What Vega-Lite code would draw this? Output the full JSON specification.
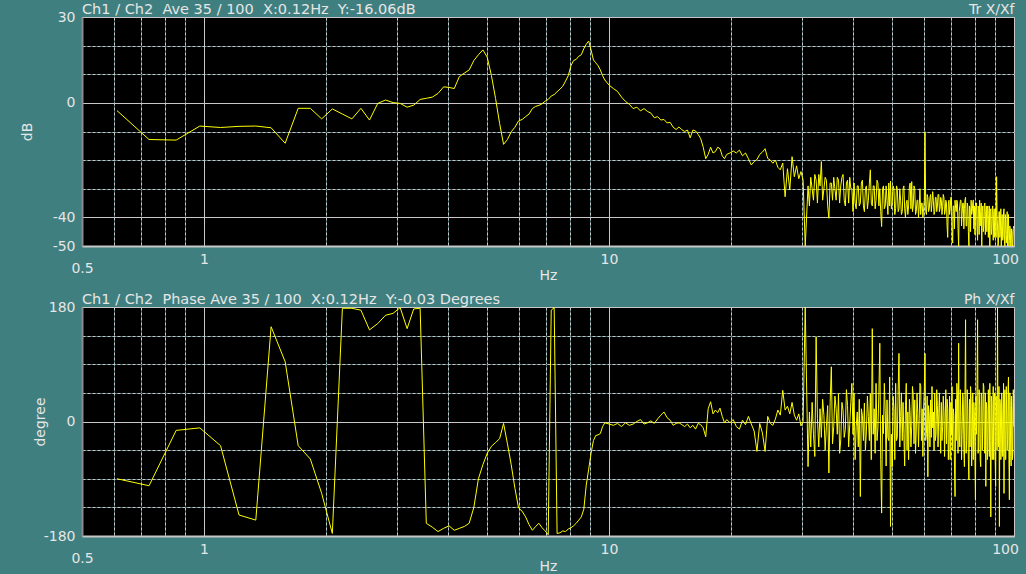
{
"$schema": "https://vega.github.io/schema/vega-lite/v6.json",
"background": "#3f7f7f",
"padding": {"left": 19, "top": 1, "right": 10, "bottom": 1},
"bounds": "flush",
"spacing": 61,
"config": {
  "font": "DejaVu Sans",
  "view": {"fill": "#000000", "stroke": "#b4b4b4", "strokeWidth": 1},
  "axis": {"labelFont": "DejaVu Sans", "labelFontSize": 14, "labelColor": "#e6e6e6", "titleFont": "DejaVu Sans", "titleFontSize": 14, "titleFontWeight": "normal", "titleColor": "#e6e6e6", "ticks": false, "tickSize": 0, "labelFlush": false, "labelOverlap": false, "labelBound": false, "gridColor": "#c8c8c8", "gridOpacity": 1, "gridWidth": 1},
  "title": {"font": "DejaVu Sans", "fontSize": 14.5, "fontWeight": "normal", "color": "#e6e6e6", "anchor": "start", "frame": "group", "offset": -15, "baseline": "alphabetic"}
},
"datasets": {"d": [
{"f":0.610,"m":-2.7,"p":-90},{"f":0.732,"m":-12.8,"p":-101},{"f":0.854,"m":-13.0,"p":-14},{"f":0.977,"m":-8.1,"p":-10},{"f":1.099,"m":-8.6,"p":-38},
{"f":1.221,"m":-8.2,"p":-147},{"f":1.343,"m":-8.1,"p":-155},{"f":1.465,"m":-8.7,"p":149},{"f":1.587,"m":-14.1,"p":94},{"f":1.709,"m":-1.9,"p":-38},
{"f":1.831,"m":-1.9,"p":-59},{"f":1.953,"m":-5.6,"p":-113},{"f":2.075,"m":-2.1,"p":-176},{"f":2.197,"m":-3.9,"p":178},{"f":2.319,"m":-5.6,"p":178},
{"f":2.441,"m":-1.9,"p":175},{"f":2.563,"m":-6.0,"p":144},{"f":2.686,"m":-0.2,"p":154},{"f":2.808,"m":1.0,"p":167},{"f":2.930,"m":0.1,"p":170},
{"f":3.052,"m":-0.2,"p":179},{"f":3.174,"m":-1.5,"p":146},{"f":3.296,"m":-0.8,"p":177},{"f":3.418,"m":1.2,"p":178},{"f":3.540,"m":1.6,"p":-160},
{"f":3.662,"m":2.0,"p":-166},{"f":3.784,"m":3.3,"p":-173},{"f":3.906,"m":5.6,"p":-168},{"f":4.028,"m":5.4,"p":-164},{"f":4.150,"m":5.0,"p":-171},
{"f":4.272,"m":9.2,"p":-168},{"f":4.395,"m":10.4,"p":-165},{"f":4.517,"m":11.5,"p":-160},{"f":4.639,"m":14.8,"p":-135},{"f":4.761,"m":16.8,"p":-90},
{"f":4.883,"m":18.5,"p":-68},{"f":5.005,"m":16.0,"p":-50},{"f":5.127,"m":9.5,"p":-39},{"f":5.249,"m":1.5,"p":-33},{"f":5.371,"m":-7.2,"p":-27},
{"f":5.493,"m":-14.5,"p":-3},{"f":5.615,"m":-12.8,"p":-35},{"f":5.737,"m":-10.1,"p":-68},{"f":5.859,"m":-8.5,"p":-105},{"f":5.981,"m":-6.3,"p":-136},
{"f":6.104,"m":-5.8,"p":-141},{"f":6.226,"m":-4.8,"p":-150},{"f":6.348,"m":-3.9,"p":-162},{"f":6.470,"m":-2.0,"p":-171},{"f":6.592,"m":-1.2,"p":-165},
{"f":6.714,"m":-0.9,"p":-160},{"f":6.836,"m":-0.3,"p":-167},{"f":6.958,"m":0.6,"p":-172},{"f":7.080,"m":1.2,"p":-178},{"f":7.202,"m":2.4,"p":175},
{"f":7.324,"m":2.9,"p":179},{"f":7.446,"m":3.9,"p":-176},{"f":7.568,"m":4.8,"p":-175},{"f":7.690,"m":5.8,"p":-172},{"f":7.812,"m":7.6,"p":-173},
{"f":7.935,"m":9.5,"p":-169},{"f":8.057,"m":13.0,"p":-167},{"f":8.179,"m":14.8,"p":-164},{"f":8.301,"m":15.2,"p":-160},{"f":8.423,"m":16.3,"p":-155},
{"f":8.545,"m":16.8,"p":-150},{"f":8.667,"m":18.9,"p":-138},{"f":8.789,"m":20.5,"p":-100},{"f":8.911,"m":21.6,"p":-75},{"f":9.033,"m":18.5,"p":-50},
{"f":9.155,"m":15.0,"p":-30},{"f":9.277,"m":14.0,"p":-22},{"f":9.399,"m":13.0,"p":-21},{"f":9.521,"m":11.5,"p":-19},{"f":9.644,"m":9.5,"p":-8},
{"f":9.766,"m":8.0,"p":-2},{"f":10.010,"m":6.2,"p":-4},{"f":10.254,"m":5.0,"p":-6},{"f":10.498,"m":4.0,"p":-3},{"f":10.742,"m":2.0,"p":-8},
{"f":10.986,"m":0.5,"p":-2},{"f":11.230,"m":-0.5,"p":-6},{"f":11.475,"m":-2.0,"p":-4},{"f":11.719,"m":-1.5,"p":0},{"f":11.963,"m":-2.8,"p":3},
{"f":12.207,"m":-2.0,"p":-4},{"f":12.451,"m":-3.0,"p":-2},{"f":12.695,"m":-3.6,"p":1},{"f":12.939,"m":-5.2,"p":-3},{"f":13.184,"m":-4.8,"p":4},
{"f":13.428,"m":-6.0,"p":10},{"f":13.672,"m":-5.8,"p":15},{"f":13.916,"m":-7.0,"p":6},{"f":14.160,"m":-6.8,"p":2},{"f":14.404,"m":-8.5,"p":-6},
{"f":14.648,"m":-9.3,"p":-3},{"f":14.893,"m":-8.4,"p":-2},{"f":15.137,"m":-9.4,"p":-5},{"f":15.381,"m":-10.0,"p":-8},{"f":15.625,"m":-9.5,"p":-4},
{"f":15.869,"m":-12.2,"p":-10},{"f":16.113,"m":-9.5,"p":-6},{"f":16.357,"m":-9.8,"p":-12},{"f":16.602,"m":-11.0,"p":-3},{"f":16.846,"m":-12.5,"p":-5},
{"f":17.090,"m":-15.5,"p":-10},{"f":17.334,"m":-19.5,"p":-24},{"f":17.578,"m":-18.0,"p":20},{"f":17.822,"m":-15.5,"p":31},{"f":18.066,"m":-17.5,"p":12},
{"f":18.311,"m":-17.0,"p":18},{"f":18.555,"m":-15.5,"p":14},{"f":18.799,"m":-16.0,"p":21},{"f":19.043,"m":-18.5,"p":8},{"f":19.287,"m":-19.5,"p":-2},
{"f":19.531,"m":-18.0,"p":3},{"f":19.897,"m":-17.5,"p":-2},{"f":20.264,"m":-16.8,"p":3},{"f":20.630,"m":-17.5,"p":-8},{"f":20.996,"m":-16.5,"p":-12},
{"f":21.362,"m":-18.5,"p":2},{"f":21.728,"m":-17.5,"p":-5},{"f":22.095,"m":-19.5,"p":8},{"f":22.461,"m":-21.7,"p":-4},{"f":22.827,"m":-20.5,"p":-15},
{"f":23.193,"m":-19.8,"p":-47},{"f":23.560,"m":-18.0,"p":-3},{"f":23.926,"m":-17.2,"p":-18},{"f":24.292,"m":-16.0,"p":-47},{"f":24.658,"m":-19.4,"p":8},
{"f":25.024,"m":-20.0,"p":-3},{"f":25.391,"m":-21.1,"p":-6},{"f":25.757,"m":-20.0,"p":4},{"f":26.123,"m":-22.5,"p":18},{"f":26.489,"m":-23.4,"p":10},
{"f":26.855,"m":-21.0,"p":49},{"f":27.222,"m":-32.8,"p":18},{"f":27.588,"m":-23.0,"p":24},{"f":27.954,"m":-30.4,"p":12},{"f":28.320,"m":-18.8,"p":30},
{"f":28.686,"m":-25.8,"p":10},{"f":29.053,"m":-22.0,"p":2},{"f":29.419,"m":-26.5,"p":12},{"f":29.785,"m":-24.0,"p":-7},{"f":30.151,"m":-27.0,"p":0},
{"f":30.518,"m":-50.0,"p":180},
{"f":31.01,"m":-29,"p":-71},{"f":31.25,"m":-36,"p":15},{"f":31.49,"m":-26,"p":-40},{"f":31.74,"m":-30,"p":30},{"f":31.98,"m":-34,"p":-20},
{"f":32.23,"m":-25,"p":-55},{"f":32.47,"m":-27,"p":133},{"f":32.71,"m":-35,"p":5},{"f":32.96,"m":-25,"p":-40},{"f":33.20,"m":-29,"p":20},
{"f":33.45,"m":-20.5,"p":-25},{"f":33.69,"m":-34,"p":35},{"f":33.94,"m":-30,"p":10},{"f":34.18,"m":-26,"p":-45},{"f":34.42,"m":-27,"p":-8},
{"f":34.67,"m":-36,"p":25},{"f":34.91,"m":-40.3,"p":-81},{"f":35.16,"m":-28,"p":30},{"f":35.40,"m":-28,"p":86},{"f":35.64,"m":-34,"p":-35},
{"f":35.89,"m":-26,"p":-8},{"f":36.13,"m":-30,"p":40},{"f":36.38,"m":-34,"p":20},{"f":36.62,"m":-26,"p":-20},{"f":36.87,"m":-27,"p":44},
{"f":37.11,"m":-35,"p":-50},{"f":37.35,"m":-29,"p":-29},{"f":37.60,"m":-26,"p":30},{"f":37.84,"m":-25,"p":18},{"f":38.09,"m":-34,"p":-25},
{"f":38.33,"m":-36,"p":-13},{"f":38.57,"m":-28,"p":50},{"f":38.82,"m":-27,"p":25},{"f":39.06,"m":-35,"p":-40},{"f":39.31,"m":-26,"p":-5},
{"f":39.55,"m":-30,"p":30},{"f":39.79,"m":-30,"p":60},{"f":40.04,"m":-38,"p":-20},{"f":40.28,"m":-28,"p":44},{"f":40.53,"m":-35,"p":-60},
{"f":40.77,"m":-37,"p":-8},{"f":41.02,"m":-29,"p":15},{"f":41.26,"m":-29,"p":-40},{"f":41.50,"m":-36,"p":35},{"f":41.75,"m":-35,"p":-118},
{"f":41.99,"m":-28,"p":20},{"f":42.24,"m":-27,"p":10},{"f":42.48,"m":-36,"p":-30},{"f":42.72,"m":-38,"p":29},{"f":42.97,"m":-30,"p":-45},
{"f":43.21,"m":-29,"p":-15},{"f":43.46,"m":-37,"p":40},{"f":43.70,"m":-34,"p":8},{"f":43.95,"m":-28,"p":-30},{"f":44.19,"m":-23.4,"p":44},
{"f":44.43,"m":-35,"p":-60},{"f":44.68,"m":-36,"p":146},{"f":44.92,"m":-29,"p":-20},{"f":45.17,"m":-29,"p":20},{"f":45.41,"m":-37,"p":-50},
{"f":45.65,"m":-34,"p":60},{"f":45.90,"m":-27,"p":-30},{"f":46.14,"m":-28,"p":-10},{"f":46.39,"m":-36,"p":45},{"f":46.63,"m":-30,"p":123},
{"f":46.87,"m":-38,"p":-60},{"f":47.12,"m":-43.2,"p":-144},{"f":47.36,"m":-30,"p":10},{"f":47.61,"m":-29,"p":-19},{"f":47.85,"m":-37,"p":60},
{"f":48.10,"m":-36,"p":15},{"f":48.34,"m":-29,"p":-70},{"f":48.58,"m":-34,"p":34},{"f":48.83,"m":-39,"p":-25},{"f":49.07,"m":-28,"p":-30},
{"f":49.32,"m":-36,"p":70},{"f":49.56,"m":-27.3,"p":-165},{"f":49.80,"m":-37,"p":-20},{"f":50.05,"m":-35,"p":-71},{"f":50.29,"m":-29,"p":40},
{"f":50.54,"m":-30,"p":20},{"f":50.78,"m":-39,"p":-60},{"f":51.03,"m":-37,"p":60},{"f":51.27,"m":-29,"p":-30},{"f":51.51,"m":-30,"p":-25},
{"f":51.76,"m":-38,"p":50},{"f":52.00,"m":-37,"p":107},{"f":52.25,"m":-30,"p":-40},{"f":52.49,"m":-34,"p":8},{"f":52.73,"m":-39,"p":45},
{"f":52.98,"m":-38,"p":-30},{"f":53.22,"m":-30,"p":30},{"f":53.47,"m":-29,"p":-19},{"f":53.71,"m":-37,"p":-70},{"f":53.96,"m":-40,"p":25},
{"f":54.20,"m":-35,"p":60},{"f":54.44,"m":-34,"p":-45},{"f":54.69,"m":-39,"p":15},{"f":54.93,"m":-36,"p":-60},{"f":55.18,"m":-29,"p":35},
{"f":55.42,"m":-28,"p":10},{"f":55.66,"m":-37,"p":-40},{"f":55.91,"m":-27.5,"p":-8},{"f":56.15,"m":-38,"p":55},{"f":56.40,"m":-36,"p":40},
{"f":56.64,"m":-29,"p":-35},{"f":56.88,"m":-30,"p":34},{"f":57.13,"m":-39,"p":-50},{"f":57.37,"m":-38,"p":-15},{"f":57.62,"m":-34,"p":45},
{"f":57.86,"m":-34,"p":13},{"f":58.11,"m":-40,"p":-40},{"f":58.35,"m":-36,"p":5},{"f":58.59,"m":-30,"p":60},{"f":58.84,"m":-39,"p":55},
{"f":59.08,"m":-35,"p":-30},{"f":59.33,"m":-35,"p":20},{"f":59.57,"m":-40,"p":-55},{"f":59.81,"m":-37,"p":20},{"f":60.06,"m":-34,"p":50},
{"f":60.30,"m":-10.1,"p":107},{"f":60.55,"m":-38,"p":-30},{"f":60.79,"m":-39,"p":-19},{"f":61.04,"m":-32,"p":40},{"f":61.28,"m":-33,"p":-87},
{"f":61.52,"m":-38,"p":25},{"f":61.77,"m":-37,"p":10},{"f":62.01,"m":-33,"p":-40},{"f":62.26,"m":-32,"p":34},{"f":62.50,"m":-38,"p":-25},
{"f":62.74,"m":-35,"p":55},{"f":62.99,"m":-31,"p":-10},{"f":63.23,"m":-34,"p":15},{"f":63.48,"m":-39,"p":-45},{"f":63.72,"m":-38,"p":44},
{"f":63.96,"m":-33,"p":-30},{"f":64.21,"m":-33,"p":-20},{"f":64.45,"m":-38,"p":50},{"f":64.70,"m":-36,"p":25},{"f":64.94,"m":-32,"p":-40},
{"f":65.19,"m":-32,"p":13},{"f":65.43,"m":-38,"p":45},{"f":65.67,"m":-37,"p":-8},{"f":65.92,"m":-33,"p":-50},{"f":66.16,"m":-34,"p":30},
{"f":66.41,"m":-39,"p":-30},{"f":66.65,"m":-36.3,"p":-8},{"f":66.89,"m":-32,"p":40},{"f":67.14,"m":-33,"p":15},{"f":67.38,"m":-39,"p":-55},
{"f":67.63,"m":-38,"p":2},{"f":67.87,"m":-34,"p":50},{"f":68.12,"m":-35,"p":-35},{"f":68.36,"m":-43,"p":35},{"f":68.60,"m":-47,"p":20},
{"f":68.85,"m":-35,"p":-60},{"f":69.09,"m":-34,"p":-29},{"f":69.34,"m":-39,"p":40},{"f":69.58,"m":-37,"p":-60},{"f":69.82,"m":-33,"p":30},
{"f":70.07,"m":-33,"p":-20},{"f":70.31,"m":-43,"p":55},{"f":70.56,"m":-49,"p":-45},{"f":70.80,"m":-36,"p":20},{"f":71.04,"m":-36,"p":10},
{"f":71.29,"m":-44,"p":-70},{"f":71.53,"m":-34,"p":-118},{"f":71.78,"m":-37,"p":35},{"f":72.02,"m":-38,"p":-30},{"f":72.27,"m":-34,"p":60},
{"f":72.51,"m":-35,"p":40},{"f":72.75,"m":-44,"p":-50},{"f":73.00,"m":-50,"p":123},{"f":73.24,"m":-38,"p":-20},{"f":73.49,"m":-36,"p":-40},
{"f":73.73,"m":-34,"p":50},{"f":73.97,"m":-34,"p":8},{"f":74.22,"m":-43,"p":-60},{"f":74.46,"m":-39,"p":-20},{"f":74.71,"m":-35,"p":45},
{"f":74.95,"m":-35,"p":35},{"f":75.20,"m":-44,"p":-45},{"f":75.44,"m":-37,"p":-71},{"f":75.68,"m":-34,"p":40},{"f":75.93,"m":-33,"p":160},
{"f":76.17,"m":-43,"p":-50},{"f":76.42,"m":-43,"p":-30},{"f":76.66,"m":-35,"p":50},{"f":76.90,"m":-36,"p":20},{"f":77.15,"m":-45,"p":-60},
{"f":77.39,"m":-50,"p":-92},{"f":77.64,"m":-36,"p":35},{"f":77.88,"m":-37,"p":-40},{"f":78.12,"m":-45,"p":55},{"f":78.37,"m":-34,"p":30},
{"f":78.61,"m":-39,"p":-70},{"f":78.86,"m":-38,"p":-29},{"f":79.10,"m":-35,"p":45},{"f":79.35,"m":-33.9,"p":-60},{"f":79.59,"m":-44,"p":30},
{"f":79.83,"m":-36,"p":15},{"f":80.08,"m":-46,"p":-55},{"f":80.32,"m":-39,"p":-123},{"f":80.57,"m":-35,"p":40},{"f":80.81,"m":-35,"p":-20},
{"f":81.05,"m":-44,"p":60},{"f":81.30,"m":-48,"p":160},{"f":81.54,"m":-36,"p":-50},{"f":81.79,"m":-37,"p":-40},{"f":82.03,"m":-46,"p":50},
{"f":82.27,"m":-34,"p":25},{"f":82.52,"m":-43,"p":-60},{"f":82.76,"m":-38,"p":-71},{"f":83.01,"m":-35,"p":45},{"f":83.25,"m":-50,"p":40},
{"f":83.50,"m":-38,"p":-45},{"f":83.74,"m":-36,"p":-8},{"f":83.98,"m":-45,"p":60},{"f":84.23,"m":-43,"p":55},{"f":84.47,"m":-36,"p":-40},
{"f":84.72,"m":-35,"p":-50},{"f":84.96,"m":-46,"p":45},{"f":85.20,"m":-38,"p":-102},{"f":85.45,"m":-36,"p":30},{"f":85.69,"m":-45,"p":20},
{"f":85.94,"m":-37,"p":-60},{"f":86.18,"m":-36,"p":-40},{"f":86.43,"m":-47,"p":50},{"f":86.67,"m":-39,"p":10},{"f":86.91,"m":-36,"p":-55},
{"f":87.16,"m":-50,"p":60},{"f":87.40,"m":-38,"p":-30},{"f":87.65,"m":-37,"p":-150},{"f":87.89,"m":-46,"p":40},{"f":88.13,"m":-44,"p":30},
{"f":88.38,"m":-37,"p":-60},{"f":88.62,"m":-36,"p":-8},{"f":88.87,"m":-48,"p":55},{"f":89.11,"m":-39,"p":-60},{"f":89.36,"m":-37,"p":35},
{"f":89.60,"m":-47,"p":45},{"f":89.84,"m":-38,"p":-55},{"f":90.09,"m":-37,"p":-102},{"f":90.33,"m":-47,"p":40},{"f":90.58,"m":-25.8,"p":20},
{"f":90.82,"m":-39,"p":-45},{"f":91.06,"m":-43,"p":180},{"f":91.31,"m":-50,"p":-30},{"f":91.55,"m":-48.6,"p":-40},{"f":91.80,"m":-38,"p":55},
{"f":92.04,"m":-38,"p":-165},{"f":92.28,"m":-47,"p":35},{"f":92.53,"m":-45,"p":30},{"f":92.77,"m":-37,"p":-60},{"f":93.02,"m":-50,"p":-50},
{"f":93.26,"m":-43,"p":45},{"f":93.51,"m":-39,"p":15},{"f":93.75,"m":-48,"p":-55},{"f":93.99,"m":-47,"p":-19},{"f":94.24,"m":-38,"p":60},
{"f":94.48,"m":-37,"p":-113},{"f":94.73,"m":-49,"p":40},{"f":94.97,"m":-50,"p":50},{"f":95.21,"m":-39,"p":-60},{"f":95.46,"m":-43,"p":-60},
{"f":95.70,"m":-49,"p":55},{"f":95.95,"m":-46,"p":10},{"f":96.19,"m":-38,"p":-45},{"f":96.44,"m":-50,"p":-29},{"f":96.68,"m":-44,"p":50},
{"f":96.92,"m":-39,"p":70},{"f":97.17,"m":-50,"p":-60},{"f":97.41,"m":-48,"p":-123},{"f":97.66,"m":-43,"p":45},{"f":97.90,"m":-44,"p":25},
{"f":98.14,"m":-50,"p":-55},{"f":98.39,"m":-50,"p":-70},{"f":98.63,"m":-44,"p":40},{"f":98.88,"m":-45,"p":15},{"f":99.12,"m":-50,"p":-60},
{"f":99.36,"m":-50,"p":-50},{"f":99.61,"m":-44,"p":50},{"f":99.85,"m":-43,"p":-8}
]},
"vconcat": [
{
  "width": 932, "height": 229,
  "title": {"text": "Ch1 / Ch2\u00a0 Ave 35 / 100\u00a0 X:0.12Hz\u00a0 Y:-16.06dB"},
  "layer": [
    {
      "data": {"values": [{"f": 1, "v": 0}]},
      "mark": {"type": "point", "opacity": 0},
      "encoding": {
        "x": {"field": "f", "type": "quantitative", "scale": {"type": "log", "domain": [0.5, 100], "nice": false},
              "axis": {"orient": "top", "title": "Tr X/Xf", "titleAnchor": "end", "titleAlign": "right", "titleBaseline": "alphabetic", "titlePadding": 4, "labels": false, "domain": false, "grid": true, "gridColor": "#2f5c5c", "values": [0.6,0.7,0.8,0.9,2,3,4,5,6,7,8,9,20,30,40,50,60,70,80,90]}},
        "y": {"field": "v", "type": "quantitative", "scale": {"domain": [-50, 30], "nice": false, "zero": false},
              "axis": {"orient": "right", "title": null, "labels": false, "domain": false, "grid": true, "gridColor": "#2f5c5c", "values": [20,10,-10,-20,-30]}}
      }
    },
    {
      "data": {"name": "d"},
      "mark": {"type": "line", "color": "#ffff00", "strokeWidth": 1, "clip": true},
      "encoding": {
        "x": {"field": "f", "type": "quantitative", "scale": {"type": "log", "domain": [0.5, 100], "nice": false},
              "axis": {"orient": "bottom", "grid": true, "title": "Hz", "titleY": 29, "titleBaseline": "middle", "domainColor": "#c8c8c8", "domainWidth": 2,
                       "values": [0.5,0.6,0.7,0.8,0.9,1,2,3,4,5,6,7,8,9,10,20,30,40,50,60,70,80,90,100],
                       "labelExpr": "datum.value == 0.5 ? '0.5' : datum.value == 1 ? '1' : datum.value == 10 ? '10' : datum.value == 100 ? '100' : ''",
                       "labelPadding": {"condition": {"test": "datum.value == 0.5", "value": 15}, "value": 6},
                       "labelOffset": {"condition": {"test": "datum.value == 100", "value": -9}, "value": 0},
                       "gridDash": {"condition": {"test": "datum.value == 0.5 || datum.value == 1 || datum.value == 10 || datum.value == 100", "value": []}, "value": [3, 2]}}},
        "y": {"field": "m", "type": "quantitative", "scale": {"domain": [-50, 30], "nice": false, "zero": false},
              "axis": {"orient": "left", "grid": true, "title": "dB", "titleX": -55, "titleY": 114.5, "titleBaseline": "middle", "domainColor": "#8c8c8c", "domainWidth": 2, "labelPadding": 7,
                       "values": [30,20,10,0,-10,-20,-30,-40,-50],
                       "labelExpr": "datum.value == 30 ? '30' : datum.value == 0 ? '0' : datum.value == -40 ? '-40' : datum.value == -50 ? '-50' : ''",
                       "gridDash": {"condition": {"test": "datum.value == 30 || datum.value == 0 || datum.value == -40 || datum.value == -50", "value": []}, "value": [3, 2]}}}
      }
    }
  ]
},
{
  "width": 932, "height": 229,
  "title": {"text": "Ch1 / Ch2\u00a0 Phase Ave 35 / 100\u00a0 X:0.12Hz\u00a0 Y:-0.03 Degrees"},
  "layer": [
    {
      "data": {"values": [{"f": 1, "v": 0}]},
      "mark": {"type": "point", "opacity": 0},
      "encoding": {
        "x": {"field": "f", "type": "quantitative", "scale": {"type": "log", "domain": [0.5, 100], "nice": false},
              "axis": {"orient": "top", "title": "Ph X/Xf", "titleAnchor": "end", "titleAlign": "right", "titleBaseline": "alphabetic", "titlePadding": 4, "labels": false, "domain": false, "grid": true, "gridColor": "#2f5c5c", "values": [0.6,0.7,0.8,0.9,2,3,4,5,6,7,8,9,20,30,40,50,60,70,80,90]}},
        "y": {"field": "v", "type": "quantitative", "scale": {"domain": [-180, 180], "nice": false, "zero": false},
              "axis": {"orient": "right", "title": null, "labels": false, "domain": false, "grid": true, "gridColor": "#2f5c5c", "values": [135,90,45,-45,-90,-135]}}
      }
    },
    {
      "data": {"name": "d"},
      "mark": {"type": "line", "color": "#ffff00", "strokeWidth": 1, "clip": true},
      "encoding": {
        "x": {"field": "f", "type": "quantitative", "scale": {"type": "log", "domain": [0.5, 100], "nice": false},
              "axis": {"orient": "bottom", "grid": true, "title": "Hz", "titleY": 30, "titleBaseline": "middle", "domainColor": "#c8c8c8", "domainWidth": 2,
                       "values": [0.5,0.6,0.7,0.8,0.9,1,2,3,4,5,6,7,8,9,10,20,30,40,50,60,70,80,90,100],
                       "labelExpr": "datum.value == 0.5 ? '0.5' : datum.value == 1 ? '1' : datum.value == 10 ? '10' : datum.value == 100 ? '100' : ''",
                       "labelPadding": {"condition": {"test": "datum.value == 0.5", "value": 15}, "value": 6},
                       "labelOffset": {"condition": {"test": "datum.value == 100", "value": -9}, "value": 0},
                       "gridDash": {"condition": {"test": "datum.value == 0.5 || datum.value == 1 || datum.value == 10 || datum.value == 100", "value": []}, "value": [3, 2]}}},
        "y": {"field": "p", "type": "quantitative", "scale": {"domain": [-180, 180], "nice": false, "zero": false},
              "axis": {"orient": "left", "grid": true, "title": "degree", "titleX": -42, "titleY": 114.5, "titleBaseline": "middle", "domainColor": "#8c8c8c", "domainWidth": 2, "labelPadding": 7,
                       "values": [180,135,90,45,0,-45,-90,-135,-180],
                       "labelExpr": "datum.value == 180 ? '180' : datum.value == 0 ? '0' : datum.value == -180 ? '-180' : ''",
                       "gridDash": {"condition": {"test": "datum.value == 180 || datum.value == 0 || datum.value == -180", "value": []}, "value": [3, 2]}}}
      }
    }
  ]
}
]
}
